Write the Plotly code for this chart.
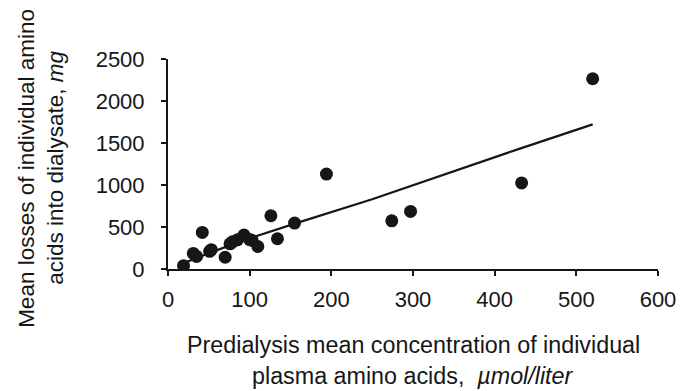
import plotly.graph_objects as go

# Scatter data
conc_x = [19, 31, 35, 42, 51, 53, 70, 76, 79, 85, 93, 100, 103, 110, 126, 134, 155, 194, 274, 297, 433, 520]
loss_y = [40, 185, 150, 435, 210, 230, 140, 300, 323, 347, 405, 350, 340, 268, 634, 360, 547, 1130, 574, 685, 1025, 2265]

# Trend line points
trend_x = [19, 60, 100, 160, 250, 345, 430, 520]
trend_y = [70, 225, 365, 555, 830, 1150, 1430, 1722]

x_ticks = [0, 100, 200, 300, 400, 500, 600]
y_ticks = [0, 500, 1000, 1500, 2000, 2500]

FONT = "Liberation Sans, Arial, sans-serif"
INK = "#161616"

fig = go.Figure()
fig.add_trace(go.Scatter(x=trend_x, y=trend_y, mode="lines",
                         line=dict(color=INK, width=2.2), showlegend=False))
fig.add_trace(go.Scatter(x=conc_x, y=loss_y, mode="markers",
                         marker=dict(color=INK, size=13, line=dict(width=0)),
                         showlegend=False))

fig.update_layout(
    width=683, height=383,
    margin=dict(l=160, r=33, t=51, b=122),
    paper_bgcolor="white", plot_bgcolor="white",
    font=dict(family=FONT, size=22, color=INK),
    xaxis=dict(range=[0, 600], tickvals=x_ticks, showgrid=False, zeroline=False,
               showline=True, linecolor=INK, linewidth=2,
               ticks="outside", ticklen=5, tickwidth=1.5, tickcolor=INK,
               tickfont=dict(size=22), ticklabelstandoff=5, fixedrange=True),
    yaxis=dict(range=[0, 2500], tickvals=y_ticks, showgrid=False, zeroline=False,
               showline=True, linecolor=INK, linewidth=2,
               ticks="outside", ticklen=5, tickwidth=1.5, tickcolor=INK,
               tickfont=dict(size=22), ticklabelstandoff=12, fixedrange=True),
    annotations=[
        dict(text="Mean losses of individual amino", xref="paper", yref="paper",
             x=-0.288, y=0.481, textangle=-90, showarrow=False,
             font=dict(size=22.5), xanchor="center", yanchor="middle"),
        dict(text="acids into dialysate, <i>mg</i>", xref="paper", yref="paper",
             x=-0.229, y=0.481, textangle=-90, showarrow=False,
             font=dict(size=22.5), xanchor="center", yanchor="middle"),
        dict(text="Predialysis mean concentration of individual", xref="paper", yref="paper",
             x=0.5, y=-0.362, showarrow=False, font=dict(size=23.3),
             xanchor="center", yanchor="middle"),
        dict(text="plasma amino acids,  <i>µmol/liter</i>", xref="paper", yref="paper",
             x=0.5, y=-0.51, showarrow=False, font=dict(size=23.3),
             xanchor="center", yanchor="middle"),
    ],
)

fig.write_html("out.html")
